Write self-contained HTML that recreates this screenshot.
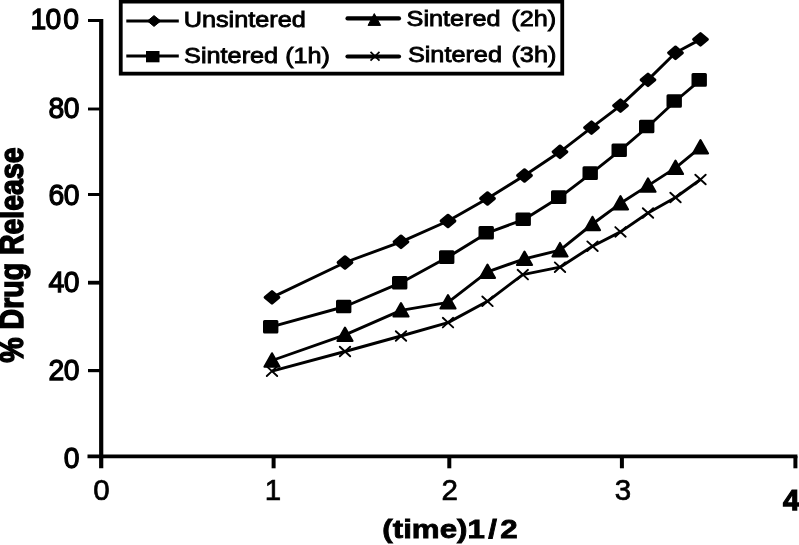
<!DOCTYPE html>
<html><head><meta charset="utf-8"><title>Drug release chart</title>
<style>
html,body{margin:0;padding:0;background:#fff;}
body{width:799px;height:545px;overflow:hidden;position:relative;}
svg{position:absolute;left:0;top:0;display:block;}
text{font-family:"Liberation Sans",sans-serif;fill:#000;}
.tk{font-size:29.8px;stroke:#000;stroke-width:1.25px;}
.tx{font-size:29.5px;stroke:#000;stroke-width:0.7px;}
.lg{font-size:22px;stroke:#000;stroke-width:0.85px;}
.ax{font-weight:bold;stroke:#000;stroke-width:1.1px;}
</style></head><body>
<svg width="799" height="545" viewBox="0 0 799 545">
<rect width="799" height="545" fill="#fff"/>

<g stroke="#000" fill="none">
<line x1="101.2" y1="19" x2="101.2" y2="468.3" stroke-width="4.2"/>
<line x1="87.5" y1="456.4" x2="797.4" y2="456.4" stroke-width="3.6"/>
<line x1="88" y1="20.5" x2="101" y2="20.5" stroke-width="3"/>
<line x1="88" y1="109" x2="101" y2="109" stroke-width="2.9"/>
<line x1="88" y1="194.5" x2="101" y2="194.5" stroke-width="3"/>
<line x1="88" y1="282.7" x2="101" y2="282.7" stroke-width="3.8"/>
<line x1="88" y1="370.6" x2="101" y2="370.6" stroke-width="3.2"/>
<line x1="273.6" y1="456" x2="273.6" y2="468.3" stroke-width="4"/>
<line x1="449.3" y1="456" x2="449.3" y2="468.3" stroke-width="4"/>
<line x1="621.9" y1="456" x2="621.9" y2="468.3" stroke-width="4"/>
<line x1="795.4" y1="456" x2="795.4" y2="468.3" stroke-width="4"/>
</g>
<text class="tk" text-anchor="end" letter-spacing="1.9" transform="translate(80.7 28.6) scale(0.95 1)">1<tspan dx="-2.5">00</tspan></text>
<text class="tk" text-anchor="end" letter-spacing="-0.3" transform="translate(79.3 117.7) scale(0.95 1)">80</text>
<text class="tk" text-anchor="end" letter-spacing="-0.3" transform="translate(79.3 205.4) scale(0.95 1)">60</text>
<text class="tk" text-anchor="end" letter-spacing="-0.3" transform="translate(79.3 291.5) scale(0.95 1)">40</text>
<text class="tk" text-anchor="end" letter-spacing="-0.3" transform="translate(79.3 379.5) scale(0.95 1)">20</text>
<text class="tk" text-anchor="end" letter-spacing="-0.3" transform="translate(79.3 467.5) scale(0.95 1)">0</text>
<text class="tx" x="101.4" y="499.6" text-anchor="middle">0</text>
<text class="tx" x="273" y="499.6" text-anchor="middle">1</text>
<text class="tx" x="449.8" y="499.6" text-anchor="middle">2</text>
<text class="tx" x="623" y="499.6" text-anchor="middle">3</text>
<text class="tk" x="783" y="509.5" style="font-weight:bold">4</text>
<text class="ax" font-size="26" style="stroke-width:0.8px" transform="translate(382.3 538) scale(1.205 1)">(time)<tspan letter-spacing="2.7">1/2</tspan></text>
<text class="ax" font-size="32.5" text-anchor="middle" style="stroke-width:1.5px" transform="translate(23.4 255) rotate(-90) scale(0.877 1)">% Drug Release</text>
<rect x="120.75" y="1.6" width="441.5" height="72.05" fill="#fff" stroke="#000" stroke-width="3.8"/>
<g stroke="#000" fill="none">
<line x1="126.3" y1="21" x2="178.8" y2="21" stroke-width="3.2"/>
<line x1="126.3" y1="56" x2="178.8" y2="56" stroke-width="3.2"/>
<line x1="347.5" y1="18.4" x2="399" y2="18.4" stroke-width="4.2" stroke-linecap="round"/>
<line x1="347.5" y1="56.5" x2="399" y2="56.5" stroke-width="4.2" stroke-linecap="round"/>
</g>
<polygon points="147.5,21 154,15.6 160.7,21 154,26.4" fill="#000" stroke="#000" stroke-width="1" stroke-linejoin="round"/>
<rect x="146" y="51" width="13.5" height="11.3" fill="#000"/>
<polygon points="374.3,13.6 380.6,25.4 368,25.4" fill="#000" stroke="#000" stroke-width="1" stroke-linejoin="round"/>
<path d="M370.5,51.8 L379.5,60.6 M379.5,51.8 L370.5,60.6" stroke="#000" stroke-width="1.7" fill="none"/>
<text class="lg" transform="translate(183.7 27.2) scale(1.148 1)">Unsintered</text>
<text class="lg" transform="translate(184.1 63.2) scale(1.148 1)">Sintered (1h)</text>
<text class="lg" transform="translate(406.6 25.7) scale(1.148 1)">Sintered<tspan dx="3.2"> (2h)</tspan></text>
<text class="lg" transform="translate(407.9 61.5) scale(1.148 1)">Sintered<tspan dx="2.2"> (3h)</tspan></text>
<g stroke="#000" fill="none" stroke-width="2.9" stroke-linejoin="round">
<polyline points="272.0,297.4 345.0,262.5 401.0,241.8 448.0,221.0 487.5,198.5 524.5,175.5 560.0,151.8 591.5,127.6 620.5,105.6 648.0,79.9 675.5,52.8 700.5,39.4"/>
<polyline points="272.0,326.7 345.0,306.5 401.0,282.7 448.0,257.1 487.5,232.8 524.5,219.3 560.0,197.1 591.5,173.1 620.5,150.2 648.0,126.5 675.5,101.0 700.5,79.9"/>
<polyline points="272.0,360.5 345.0,334.8 401.0,310.4 448.0,302.4 487.5,271.8 524.5,258.8 560.0,250.2 592.5,224.0 620.5,203.3 648.0,185.6 675.5,167.9 700.5,147.3"/>
<polyline points="272.0,371.2 345.0,351.5 401.0,336.0 448.0,322.6 487.5,301.3 522.8,274.6 560.0,267.2 592.5,246.2 620.5,231.9 648.0,213.0 675.5,197.5 700.5,179.5"/>
</g>
<g fill="#000" stroke="#000" stroke-width="3" stroke-linejoin="round">
<polygon points="265.1,297.4 272.0,291.6 278.9,297.4 272.0,303.2"/>
<polygon points="338.1,262.5 345.0,256.7 351.9,262.5 345.0,268.3"/>
<polygon points="394.1,241.8 401.0,236.0 407.9,241.8 401.0,247.6"/>
<polygon points="441.1,221.0 448.0,215.2 454.9,221.0 448.0,226.8"/>
<polygon points="480.6,198.5 487.5,192.7 494.4,198.5 487.5,204.3"/>
<polygon points="517.6,175.5 524.5,169.7 531.4,175.5 524.5,181.3"/>
<polygon points="553.1,151.8 560.0,146.0 566.9,151.8 560.0,157.6"/>
<polygon points="584.6,127.6 591.5,121.8 598.4,127.6 591.5,133.4"/>
<polygon points="613.6,105.6 620.5,99.8 627.4,105.6 620.5,111.4"/>
<polygon points="641.1,79.9 648.0,74.1 654.9,79.9 648.0,85.7"/>
<polygon points="668.6,52.8 675.5,47.0 682.4,52.8 675.5,58.6"/>
<polygon points="693.6,39.4 700.5,33.6 707.4,39.4 700.5,45.2"/>
<rect x="264.5" y="321.4" width="12.4" height="10.6"/>
<rect x="337.5" y="301.2" width="12.4" height="10.6"/>
<rect x="393.5" y="277.4" width="12.4" height="10.6"/>
<rect x="440.5" y="251.8" width="12.4" height="10.6"/>
<rect x="480.0" y="227.5" width="12.4" height="10.6"/>
<rect x="517.0" y="214.0" width="12.4" height="10.6"/>
<rect x="552.5" y="191.8" width="12.4" height="10.6"/>
<rect x="584.0" y="167.8" width="12.4" height="10.6"/>
<rect x="613.0" y="144.9" width="12.4" height="10.6"/>
<rect x="640.5" y="121.2" width="12.4" height="10.6"/>
<rect x="668.0" y="95.7" width="12.4" height="10.6"/>
<rect x="693.0" y="74.6" width="12.4" height="10.6"/>
</g>
<g fill="#000" stroke="#000" stroke-width="2" stroke-linejoin="round">
<polygon points="272.0,353.2 279.6,366.7 264.4,366.7"/>
<polygon points="345.0,327.5 352.6,341.0 337.4,341.0"/>
<polygon points="401.0,303.1 408.6,316.6 393.4,316.6"/>
<polygon points="448.0,295.1 455.6,308.6 440.4,308.6"/>
<polygon points="487.5,264.5 495.1,278.0 479.9,278.0"/>
<polygon points="524.5,251.5 532.1,265.0 516.9,265.0"/>
<polygon points="560.0,242.9 567.6,256.4 552.4,256.4"/>
<polygon points="592.5,216.7 600.1,230.2 584.9,230.2"/>
<polygon points="620.5,196.0 628.1,209.5 612.9,209.5"/>
<polygon points="648.0,178.3 655.6,191.8 640.4,191.8"/>
<polygon points="675.5,160.6 683.1,174.1 667.9,174.1"/>
<polygon points="700.5,140.0 708.1,153.5 692.9,153.5"/>
</g>
<g stroke="#000" stroke-width="1.9" fill="none" stroke-linecap="round">
<path d="M266.8,366.4 L277.2,376.0 M277.2,366.4 L266.8,376.0"/>
<path d="M339.8,346.7 L350.2,356.3 M350.2,346.7 L339.8,356.3"/>
<path d="M395.8,331.2 L406.2,340.8 M406.2,331.2 L395.8,340.8"/>
<path d="M442.8,317.8 L453.2,327.4 M453.2,317.8 L442.8,327.4"/>
<path d="M482.3,296.5 L492.7,306.1 M492.7,296.5 L482.3,306.1"/>
<path d="M517.6,269.8 L528.0,279.4 M528.0,269.8 L517.6,279.4"/>
<path d="M554.8,262.4 L565.2,272.0 M565.2,262.4 L554.8,272.0"/>
<path d="M587.3,241.4 L597.7,251.0 M597.7,241.4 L587.3,251.0"/>
<path d="M615.3,227.1 L625.7,236.7 M625.7,227.1 L615.3,236.7"/>
<path d="M642.8,208.2 L653.2,217.8 M653.2,208.2 L642.8,217.8"/>
<path d="M670.3,192.7 L680.7,202.3 M680.7,192.7 L670.3,202.3"/>
<path d="M695.3,174.7 L705.7,184.3 M705.7,174.7 L695.3,184.3"/>
</g>
</svg></body></html>
